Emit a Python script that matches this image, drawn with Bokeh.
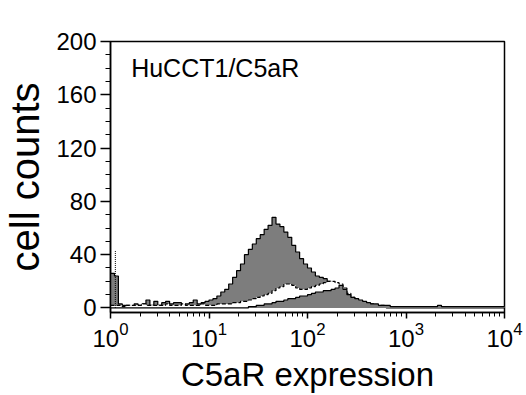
import numpy as np
from bokeh.plotting import figure
from bokeh.models import Range1d, SingleIntervalTicker, LogTicker, Label
from bokeh.embed import file_html
from bokeh.resources import INLINE

# Histogram channels: 100 log-spaced bins covering 10^0 .. 10^4
BIN_DECADES = 0.04
N_BINS = 100

# C5aR-stained cells (grey, solid outline)
c5ar_counts = [
    26, 24, 3, 2, 2, 1, 3, 2, 3, 6, 2, 5, 2, 4, 5, 3, 4, 4, 2, 3,
    4, 6, 3, 4, 5, 6, 7, 9, 12, 14, 18, 23, 28, 33, 40, 44, 48, 52, 55, 59,
    62, 68, 63, 61, 57, 53, 47, 42, 37, 33, 30, 27, 24, 23, 22, 20, 18, 12, 9, 7,
    5, 4, 3, 2, 2, 1, 1, 1, 1, 1, 0, 0, 0, 0, 0, 0, 0, 0, 0, 0,
    0, 0, 0, 0, 0, 0, 0, 0, 0, 0, 0, 0, 0, 0, 0, 0, 0, 0, 0, 0,
]

# Control staining (white, dashed outline)
control_counts = [
    2, 2, 2, 1, 2, 2, 2, 2, 3, 2, 2, 2, 2, 2, 3, 2, 2, 2, 3, 2,
    2, 2, 2, 3, 2, 2, 2, 3, 3, 3, 3, 4, 4, 5, 5, 6, 7, 8, 9, 10,
    11, 13, 15, 16, 18, 18, 17, 15, 14, 14, 15, 16, 17, 18, 19, 20, 20, 19, 18, 15,
    11, 8, 6, 5, 4, 3, 3, 2, 2, 2, 1, 1, 1, 1, 1, 1, 1, 1, 1, 1,
    1, 1, 1, 1, 1, 1, 1, 1, 1, 1, 1, 1, 1, 1, 1, 1, 1, 1, 1, 1,
]

# Second stained population (grey, solid outline, in front)
low_counts = [
    0, 0, 0, 0, 0, 0, 0, 0, 0, 0, 0, 0, 0, 0, 0, 0, 0, 0, 0, 0,
    0, 0, 0, 0, 0, 0, 0, 0, 0, 0, 0, 0, 0, 0, 0, 1, 1, 2, 2, 3,
    3, 4, 5, 5, 6, 7, 7, 8, 9, 9, 10, 11, 12, 12, 13, 13, 14, 15, 17, 14,
    10, 8, 7, 6, 5, 4, 3, 3, 2, 2, 2, 1, 1, 1, 1, 1, 1, 1, 1, 1,
    1, 1, 1, 2, 1, 1, 1, 1, 1, 1, 1, 1, 1, 1, 1, 1, 1, 1, 1, 1,
]

# Narrow dotted spike in the control trace at the lowest channel
spike_x = 1.12
spike_count = 43

y_ticks_interval = 40
title_text = "HuCCT1/C5aR"
x_title = "C5aR expression"
y_title = "cell counts"

FONT = "Liberation Sans"
GREY = "#7d7d7d"

edges = 10 ** (np.arange(N_BINS + 1) * BIN_DECADES)


def stepped(values):
    return list(values) + [values[-1]]


p = figure(
    width=526, height=395,
    x_axis_type="log",
    x_range=Range1d(1, 10000), y_range=Range1d(-3.4, 200),
    output_backend="svg", toolbar_location=None,
    min_border_left=108, min_border_right=22,
    min_border_top=41, min_border_bottom=82,
)
p.background_fill_color = "white"
p.border_fill_color = "white"
p.outline_line_color = "black"
p.outline_line_width = 1.5
p.grid.visible = False

# grey C5aR histogram
p.varea_step(x=edges, y1=0, y2=stepped(c5ar_counts), step_mode="after",
             fill_color=GREY)
p.step(x=edges, y=stepped(c5ar_counts), mode="after", line_color="black",
       line_width=1.2)

# white control histogram with dashed outline
p.varea_step(x=edges, y1=0, y2=stepped(control_counts), step_mode="after",
             fill_color="white")
p.step(x=edges, y=stepped(control_counts), mode="after", line_color="black",
       line_width=1.2, line_dash="4 2")
p.segment(x0=[spike_x], y0=[0], x1=[spike_x], y1=[spike_count],
          line_color="black", line_width=1, line_dash="1 1")

# lower grey histogram
p.varea_step(x=edges, y1=0, y2=stepped(low_counts), step_mode="after",
             fill_color=GREY)
p.step(x=edges, y=stepped(low_counts), mode="after", line_color="black",
       line_width=1.2)

# axes
xa = p.xaxis[0]
xa.ticker = LogTicker(desired_num_ticks=5, num_minor_ticks=10)
xa.axis_label = x_title
xa.axis_label_text_font = FONT
xa.axis_label_text_font_size = "33px"
xa.axis_label_text_font_style = "normal"
xa.axis_label_text_color = "black"
xa.axis_label_standoff = 6
xa.major_label_text_font = FONT
xa.major_label_text_font_size = "24px"
xa.major_label_text_color = "black"
xa.major_label_standoff = 3
xa.major_tick_out = 6
xa.major_tick_in = 0
xa.minor_tick_out = 4
xa.minor_tick_in = 0
xa.axis_line_width = 1.5
xa.major_tick_line_width = 1.5

ya = p.yaxis[0]
ya.ticker = SingleIntervalTicker(interval=y_ticks_interval, num_minor_ticks=4)
ya.axis_label = y_title
ya.axis_label_text_font = FONT
ya.axis_label_text_font_size = "40px"
ya.axis_label_text_font_style = "normal"
ya.axis_label_text_color = "black"
ya.axis_label_standoff = 6
ya.major_label_text_font = FONT
ya.major_label_text_font_size = "24px"
ya.major_label_text_color = "black"
ya.major_label_standoff = 4
ya.major_tick_out = 10
ya.major_tick_in = 0
ya.minor_tick_out = 5
ya.minor_tick_in = 0
ya.axis_line_width = 1.5
ya.major_tick_line_width = 1.5

# sample name inside the panel
p.add_layout(Label(x=1.62, y=180, text=title_text, text_font=FONT,
                   text_font_size="25px", text_align="left",
                   text_baseline="alphabetic", text_color="black"))

open("out.html", "w").write(file_html(p, INLINE))
